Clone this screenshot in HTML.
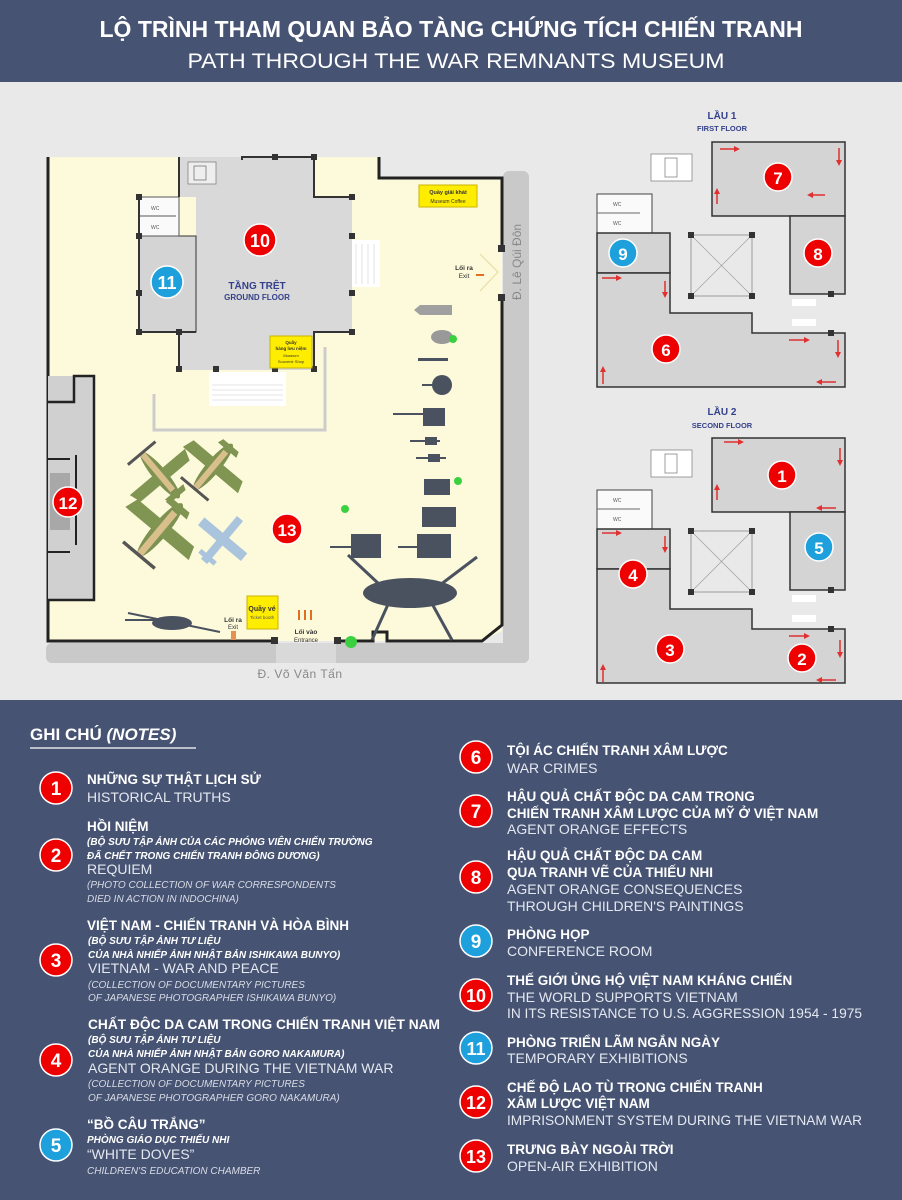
<!DOCTYPE html>
<html><head><meta charset="utf-8"><style>
html,body{margin:0;padding:0;width:902px;height:1200px;overflow:hidden;background:#465372}
svg{display:block}
text{font-family:"Liberation Sans",sans-serif}
</style></head><body>
<svg width="902" height="1200" viewBox="0 0 902 1200" xmlns="http://www.w3.org/2000/svg">
<defs>
<marker id="ah" markerWidth="6" markerHeight="6" refX="4" refY="3" orient="auto" markerUnits="userSpaceOnUse"><path d="M0,0 L6,3 L0,6Z" fill="#e03030"/></marker>
<g id="plane">
  <ellipse cx="0" cy="0" rx="7" ry="30" fill="#7d9150"/>
  <path d="M-36,-4 L36,-4 L32,8 L-32,8 Z" fill="#819552"/>
  <path d="M-12,22 L12,22 L10,28 L-10,28 Z" fill="#819552"/>
  <path d="M-3,-28 L3,-28 L3,20 L-3,20Z" fill="#d9bf8c"/>
  <rect x="-18" y="-30" width="36" height="3" fill="#555"/>
</g>
</defs>

<rect x="0" y="0" width="902" height="82" fill="#465372"/>
<text x="451" y="37" text-anchor="middle" font-size="23" font-weight="bold" fill="#fff" textLength="703" lengthAdjust="spacingAndGlyphs">LỘ TRÌNH THAM QUAN BẢO TÀNG CHỨNG TÍCH CHIẾN TRANH</text>
<text x="456" y="68" text-anchor="middle" font-size="21" fill="#fff" textLength="537" lengthAdjust="spacingAndGlyphs">PATH THROUGH THE WAR REMNANTS MUSEUM</text>

<rect x="0" y="82" width="902" height="618" fill="#e9e9e9"/>

<rect x="503" y="171" width="26" height="492" rx="6" fill="#c9c9c9"/>
<rect x="46" y="643" width="483" height="20" rx="6" fill="#c9c9c9"/>
<rect x="276" y="643" width="60" height="20" fill="#d9d9d9"/>
<text x="521" y="300" font-size="12" fill="#888" transform="rotate(-90 521 300)">Đ. Lê Qúi Đôn</text>
<text x="300" y="678" text-anchor="middle" font-size="12" fill="#888" letter-spacing="0.5">Đ. Võ Văn Tấn</text>

<polygon points="48,157 379,157 379,178 502,178 502,631 482,641 48,641" fill="#fdfadb"/>
<polyline points="48,157 48,641 275,641" fill="none" stroke="#222" stroke-width="3"/>
<polyline points="337,641 373,641 373,632 387,632 387,641 482,641 502,625 502,297" fill="none" stroke="#222" stroke-width="3"/>
<polyline points="502,248 502,178 379,178 379,157" fill="none" stroke="#222" stroke-width="3"/>
<rect x="498" y="245" width="7" height="7" fill="#333"/><rect x="498" y="294" width="7" height="7" fill="#333"/>
<rect x="334" y="637" width="7" height="7" fill="#333"/><rect x="271" y="637" width="7" height="7" fill="#333"/>
<path d="M480,254 L498,272 L480,291" fill="none" stroke="#e8d9a0"/>

<polygon points="179,157 314,157 314,197 352,197 352,332 314,332 314,370 179,370 179,332 139,332 139,236 196,236 196,197 179,197" fill="#d9d9d9"/>
<rect x="139" y="236" width="57" height="96" fill="#d4d4d4" stroke="#333" stroke-width="1"/>
<rect x="139" y="197" width="40" height="39" fill="#fafafa" stroke="#555" stroke-width="1"/>
<line x1="139" y1="216" x2="176" y2="216" stroke="#555"/>
<text x="151" y="210" font-size="5" fill="#555">WC</text><text x="151" y="229" font-size="5" fill="#555">WC</text>
<rect x="188" y="162" width="28" height="22" fill="#eee" stroke="#777" stroke-width="0.7"/>
<rect x="194" y="166" width="12" height="14" fill="none" stroke="#666" stroke-width="0.7"/>
<g stroke="#333" stroke-width="2" fill="none">
<polyline points="179,157 179,197"/><polyline points="242,160 242,157 314,157 314,197 352,197"/>
<polyline points="352,332 314,332 314,370"/><polyline points="179,332 179,370"/>
<polyline points="139,197 139,332 196,332"/>
</g>
<g fill="#333">
<rect x="272" y="154" width="6" height="6"/><rect x="311" y="154" width="6" height="6"/><rect x="349" y="194" width="6" height="6"/><rect x="349" y="233" width="6" height="6"/>
<rect x="349" y="290" width="6" height="6"/><rect x="349" y="329" width="6" height="6"/><rect x="311" y="366" width="6" height="6"/><rect x="272" y="366" width="6" height="6"/>
<rect x="213" y="366" width="6" height="6"/><rect x="176" y="366" width="6" height="6"/><rect x="176" y="329" width="6" height="6"/><rect x="136" y="329" width="6" height="6"/>
<rect x="136" y="290" width="6" height="6"/><rect x="136" y="233" width="6" height="6"/><rect x="136" y="194" width="6" height="6"/>
</g>
<rect x="352" y="240" width="28" height="47" fill="#fff"/>
<g stroke="#ddd" stroke-width="0.8"><line x1="356" y1="244" x2="356" y2="284"/><line x1="362" y1="244" x2="362" y2="284"/><line x1="368" y1="244" x2="368" y2="284"/><line x1="374" y1="244" x2="374" y2="284"/></g>
<rect x="209" y="372" width="77" height="34" fill="#fff"/>
<g stroke="#ddd" stroke-width="0.8"><line x1="212" y1="385" x2="283" y2="385"/><line x1="212" y1="390" x2="283" y2="390"/><line x1="212" y1="395" x2="283" y2="395"/><line x1="212" y1="400" x2="283" y2="400"/></g>
<polyline points="154,394 154,430 325,430 325,347" fill="none" stroke="#ccc" stroke-width="3"/>

<rect x="419" y="185" width="58" height="22" fill="#ffed00" stroke="#c9b400"/>
<text x="448" y="194" text-anchor="middle" font-size="5.5" font-weight="bold" fill="#333">Quầy giải khát</text>
<text x="448" y="203" text-anchor="middle" font-size="5" fill="#333">Museum Coffee</text>
<rect x="270" y="336" width="42" height="32" fill="#ffed00" stroke="#c9b400"/>
<text x="291" y="344" text-anchor="middle" font-size="4.5" font-weight="bold" fill="#333">Quầy</text>
<text x="291" y="350" text-anchor="middle" font-size="4.5" font-weight="bold" fill="#333">hàng lưu niệm</text>
<text x="291" y="357" text-anchor="middle" font-size="4" fill="#333">Museum</text>
<text x="291" y="363" text-anchor="middle" font-size="4" fill="#333">Souvenir Shop</text>
<rect x="247" y="596" width="31" height="33" fill="#ffed00" stroke="#c9b400"/>
<text x="262" y="611" text-anchor="middle" font-size="7" font-weight="bold" fill="#333">Quầy vé</text>
<text x="262" y="619" text-anchor="middle" font-size="4.5" fill="#555">Ticket booth</text>
<text x="464" y="270" text-anchor="middle" font-size="6.5" font-weight="bold" fill="#333">Lối ra</text>
<text x="464" y="278" text-anchor="middle" font-size="6.5" fill="#333">Exit</text>
<path d="M476,275 L484,275" stroke="#e07020" stroke-width="2"/>
<text x="233" y="622" text-anchor="middle" font-size="6.5" font-weight="bold" fill="#333">Lối ra</text>
<text x="233" y="629" text-anchor="middle" font-size="6" fill="#333">Exit</text>
<rect x="231" y="631" width="5" height="9" fill="#e89050"/>
<text x="306" y="634" text-anchor="middle" font-size="6.5" font-weight="bold" fill="#333">Lối vào</text>
<text x="306" y="642" text-anchor="middle" font-size="6" fill="#333">Entrance</text>
<g fill="#e07020"><rect x="298" y="610" width="2" height="10"/><rect x="304" y="610" width="2" height="10"/><rect x="310" y="610" width="2" height="10"/></g>

<rect x="48" y="376" width="46" height="224" fill="#d0d0d0"/>
<polyline points="48,402 74,402 74,376 94,376 94,600 48,600" fill="none" stroke="#222" stroke-width="2.5"/>
<rect x="50" y="473" width="20" height="57" fill="#a8a8a8"/>
<g stroke="#222" stroke-width="2"><line x1="48" y1="459" x2="70" y2="459"/><line x1="48" y1="552" x2="70" y2="552"/><line x1="76" y1="455" x2="76" y2="545"/></g>

<g transform="translate(160,475) rotate(-40)"><use href="#plane"/></g>
<g transform="translate(213,467) rotate(-140)"><use href="#plane"/></g>
<g transform="translate(160,530) rotate(-140) scale(1.15)"><use href="#plane"/></g>
<g transform="translate(222,540) rotate(40)"><path d="M-4,-28 L4,-28 L4,28 L-4,28Z M-28,-6 L28,-6 L28,4 L-28,4Z M-10,20 L10,20 L10,25 L-10,25Z" fill="#a9c4dc"/></g>
<g fill="#4a5260">
<path d="M420,305 L452,305 L452,315 L420,315 L414,310Z" fill="#a0a0a0"/>
<ellipse cx="442" cy="337" rx="11" ry="7" fill="#999"/>
<rect x="418" y="358" width="30" height="3"/>
<circle cx="442" cy="385" r="10"/><rect x="422" y="384" width="20" height="2"/>
<rect x="423" y="408" width="22" height="18"/><rect x="393" y="413" width="30" height="2"/>
<rect x="425" y="437" width="12" height="8"/><rect x="410" y="440" width="30" height="2"/>
<rect x="428" y="454" width="12" height="8"/><rect x="416" y="457" width="30" height="2"/>
<rect x="424" y="479" width="26" height="16"/>
<rect x="422" y="507" width="34" height="20"/>
<rect x="351" y="534" width="30" height="24"/><rect x="330" y="546" width="22" height="2"/>
<rect x="417" y="534" width="34" height="24"/><rect x="398" y="546" width="22" height="2"/>
<ellipse cx="410" cy="593" rx="47" ry="15"/>
</g>
<g stroke="#4a5260" stroke-width="3"><line x1="348" y1="555" x2="380" y2="585"/><line x1="440" y1="585" x2="477" y2="557"/><line x1="390" y1="600" x2="372" y2="640"/><line x1="430" y1="600" x2="452" y2="640"/></g>
<ellipse cx="172" cy="623" rx="20" ry="7" fill="#4a5260"/>
<g stroke="#4a5260" stroke-width="2"><line x1="128" y1="613" x2="220" y2="632"/><line x1="125" y1="620" x2="155" y2="620"/></g>
<g fill="#3bd040"><circle cx="453" cy="339" r="4"/><circle cx="458" cy="481" r="4"/><circle cx="345" cy="509" r="4"/><circle cx="351" cy="642" r="6"/></g>

<text x="257" y="289" text-anchor="middle" font-size="10" font-weight="bold" fill="#34418a">TẦNG TRỆT</text>
<text x="257" y="300" text-anchor="middle" font-size="8" font-weight="bold" fill="#34418a">GROUND FLOOR</text>

<g id="f1">
<rect x="651" y="154" width="41" height="27" fill="#fff" stroke="#888" stroke-width="0.8"/>
<rect x="665" y="158" width="12" height="19" fill="none" stroke="#777" stroke-width="0.7"/>
<rect x="597" y="194" width="55" height="39" fill="#fafafa" stroke="#444" stroke-width="1"/>
<line x1="597" y1="213" x2="640" y2="213" stroke="#666"/>
<text x="613" y="206" font-size="5" fill="#555">WC</text><text x="613" y="225" font-size="5" fill="#555">WC</text>
<rect x="712" y="142" width="133" height="74" fill="#d4d4d4" stroke="#333" stroke-width="1.5"/>
<rect x="790" y="216" width="55" height="78" fill="#d4d4d4" stroke="#333" stroke-width="1.5"/>
<rect x="597" y="233" width="73" height="40" fill="#d4d4d4" stroke="#333" stroke-width="1.5"/>
<polygon points="597,273 670,273 670,313 752,313 752,333 845,333 845,387 597,387" fill="#d4d4d4" stroke="#333" stroke-width="1.5"/>
<rect x="691" y="235" width="61" height="61" fill="none" stroke="#888" stroke-width="0.8"/>
<line x1="691" y1="235" x2="752" y2="296" stroke="#999" stroke-width="0.6"/><line x1="752" y1="235" x2="691" y2="296" stroke="#999" stroke-width="0.6"/>
<g fill="#333"><rect x="688" y="232" width="6" height="6"/><rect x="749" y="232" width="6" height="6"/><rect x="688" y="293" width="6" height="6"/><rect x="749" y="293" width="6" height="6"/><rect x="828" y="291" width="6" height="6"/><rect x="828" y="330" width="6" height="6"/></g>
<g fill="#fff"><rect x="792" y="299" width="24" height="7"/><rect x="792" y="319" width="24" height="7"/></g>
</g>
<use href="#f1" transform="translate(0,296)"/>
<text x="722" y="119" text-anchor="middle" font-size="10" font-weight="bold" fill="#34418a">LẦU 1</text>
<text x="722" y="131" text-anchor="middle" font-size="7.5" font-weight="bold" fill="#34418a">FIRST FLOOR</text>
<text x="722" y="415" text-anchor="middle" font-size="10" font-weight="bold" fill="#34418a">LẦU 2</text>
<text x="722" y="428" text-anchor="middle" font-size="7.5" font-weight="bold" fill="#34418a">SECOND FLOOR</text>
<g stroke="#e03030" stroke-width="1.5" marker-end="url(#ah)">
<line x1="720" y1="149" x2="738" y2="149"/><line x1="839" y1="148" x2="839" y2="164"/><line x1="825" y1="195" x2="809" y2="195"/><line x1="717" y1="204" x2="717" y2="190"/>
<line x1="602" y1="278" x2="620" y2="278"/><line x1="665" y1="281" x2="665" y2="296"/><line x1="789" y1="340" x2="808" y2="340"/><line x1="838" y1="340" x2="838" y2="356"/><line x1="836" y1="382" x2="818" y2="382"/><line x1="603" y1="384" x2="603" y2="368"/>
<line x1="724" y1="442" x2="742" y2="442"/><line x1="840" y1="448" x2="840" y2="464"/><line x1="836" y1="508" x2="818" y2="508"/><line x1="717" y1="500" x2="717" y2="486"/>
<line x1="602" y1="533" x2="620" y2="533"/><line x1="665" y1="536" x2="665" y2="551"/><line x1="789" y1="636" x2="808" y2="636"/><line x1="840" y1="640" x2="840" y2="656"/><line x1="836" y1="680" x2="818" y2="680"/><line x1="603" y1="682" x2="603" y2="666"/>
</g>

<g font-weight="bold" fill="#fff" text-anchor="middle">
<g><circle cx="260" cy="240" r="16" fill="#e00" stroke="#fff" stroke-width="1.5"/><text x="260" y="247" font-size="18">10</text></g>
<g><circle cx="167" cy="282" r="16" fill="#1ea0dc" stroke="#fff" stroke-width="1.5"/><text x="167" y="289" font-size="18">11</text></g>
<g><circle cx="68" cy="502" r="15" fill="#e00" stroke="#fff" stroke-width="1.5"/><text x="68" y="509" font-size="17">12</text></g>
<g><circle cx="287" cy="529" r="15" fill="#e00" stroke="#fff" stroke-width="1.5"/><text x="287" y="536" font-size="17">13</text></g>
<g><circle cx="778" cy="177" r="14" fill="#e00" stroke="#fff" stroke-width="1.5"/><text x="778" y="184" font-size="17">7</text></g>
<g><circle cx="818" cy="253" r="14" fill="#e00" stroke="#fff" stroke-width="1.5"/><text x="818" y="260" font-size="17">8</text></g>
<g><circle cx="623" cy="253" r="14" fill="#1ea0dc" stroke="#fff" stroke-width="1.5"/><text x="623" y="260" font-size="17">9</text></g>
<g><circle cx="666" cy="349" r="14" fill="#e00" stroke="#fff" stroke-width="1.5"/><text x="666" y="356" font-size="17">6</text></g>
<g><circle cx="782" cy="475" r="14" fill="#e00" stroke="#fff" stroke-width="1.5"/><text x="782" y="482" font-size="17">1</text></g>
<g><circle cx="819" cy="547" r="14" fill="#1ea0dc" stroke="#fff" stroke-width="1.5"/><text x="819" y="554" font-size="17">5</text></g>
<g><circle cx="633" cy="574" r="14" fill="#e00" stroke="#fff" stroke-width="1.5"/><text x="633" y="581" font-size="17">4</text></g>
<g><circle cx="670" cy="649" r="14" fill="#e00" stroke="#fff" stroke-width="1.5"/><text x="670" y="656" font-size="17">3</text></g>
<g><circle cx="802" cy="658" r="14" fill="#e00" stroke="#fff" stroke-width="1.5"/><text x="802" y="665" font-size="17">2</text></g>
</g>

<text x="30" y="740" font-size="17" font-weight="bold" fill="#fff">GHI CHÚ <tspan font-style="italic">(NOTES)</tspan></text>
<line x1="30" y1="748" x2="196" y2="748" stroke="#fff" stroke-width="1.2"/>

<g font-weight="bold" fill="#fff" text-anchor="middle">
<circle cx="56" cy="788" r="16" fill="#e00" stroke="#fff" stroke-width="1.5"/><text x="56" y="795" font-size="19">1</text>
<circle cx="56" cy="855" r="16" fill="#e00" stroke="#fff" stroke-width="1.5"/><text x="56" y="862" font-size="19">2</text>
<circle cx="56" cy="960" r="16" fill="#e00" stroke="#fff" stroke-width="1.5"/><text x="56" y="967" font-size="19">3</text>
<circle cx="56" cy="1060" r="16" fill="#e00" stroke="#fff" stroke-width="1.5"/><text x="56" y="1067" font-size="19">4</text>
<circle cx="56" cy="1145" r="16" fill="#1ea0dc" stroke="#fff" stroke-width="1.5"/><text x="56" y="1152" font-size="19">5</text>
<circle cx="476" cy="757" r="16" fill="#e00" stroke="#fff" stroke-width="1.5"/><text x="476" y="764" font-size="19">6</text>
<circle cx="476" cy="811" r="16" fill="#e00" stroke="#fff" stroke-width="1.5"/><text x="476" y="818" font-size="19">7</text>
<circle cx="476" cy="877" r="16" fill="#e00" stroke="#fff" stroke-width="1.5"/><text x="476" y="884" font-size="19">8</text>
<circle cx="476" cy="941" r="16" fill="#1ea0dc" stroke="#fff" stroke-width="1.5"/><text x="476" y="948" font-size="19">9</text>
<circle cx="476" cy="995" r="16" fill="#e00" stroke="#fff" stroke-width="1.5"/><text x="476" y="1002" font-size="18">10</text>
<circle cx="476" cy="1048" r="16" fill="#1ea0dc" stroke="#fff" stroke-width="1.5"/><text x="476" y="1055" font-size="18">11</text>
<circle cx="476" cy="1102" r="16" fill="#e00" stroke="#fff" stroke-width="1.5"/><text x="476" y="1109" font-size="18">12</text>
<circle cx="476" cy="1156" r="16" fill="#e00" stroke="#fff" stroke-width="1.5"/><text x="476" y="1163" font-size="18">13</text>
</g>

<g fill="#fff">
<g font-size="13.5" font-weight="bold">
<text x="87" y="784">NHỮNG SỰ THẬT LỊCH SỬ</text>
<text x="87" y="831">HỒI NIỆM</text>
<text x="87" y="930">VIỆT NAM - CHIẾN TRANH VÀ HÒA BÌNH</text>
<text x="88" y="1029" textLength="352" lengthAdjust="spacingAndGlyphs">CHẤT ĐỘC DA CAM TRONG CHIẾN TRANH VIỆT NAM</text>
<text x="87" y="1129">“BỒ CÂU TRẮNG”</text>
<text x="507" y="755">TỘI ÁC CHIẾN TRANH XÂM LƯỢC</text>
<text x="507" y="801">HẬU QUẢ CHẤT ĐỘC DA CAM TRONG</text>
<text x="507" y="818">CHIẾN TRANH XÂM LƯỢC CỦA MỸ Ở VIỆT NAM</text>
<text x="507" y="860">HẬU QUẢ CHẤT ĐỘC DA CAM</text>
<text x="507" y="877">QUA TRANH VẼ CỦA THIẾU NHI</text>
<text x="507" y="939">PHÒNG HỌP</text>
<text x="507" y="985">THẾ GIỚI ỦNG HỘ VIỆT NAM KHÁNG CHIẾN</text>
<text x="507" y="1047">PHÒNG TRIỂN LÃM NGẮN NGÀY</text>
<text x="507" y="1092">CHẾ ĐỘ LAO TÙ TRONG CHIẾN TRANH</text>
<text x="507" y="1108">XÂM LƯỢC VIỆT NAM</text>
<text x="507" y="1154">TRƯNG BÀY NGOÀI TRỜI</text>
</g>
<g font-size="10" font-weight="bold" font-style="italic">
<text x="87" y="845">(BỘ SƯU TẬP ẢNH CỦA CÁC PHÓNG VIÊN CHIẾN TRƯỜNG</text>
<text x="87" y="859">ĐÃ CHẾT TRONG CHIẾN TRANH ĐÔNG DƯƠNG)</text>
<text x="88" y="944">(BỘ SƯU TẬP ẢNH TƯ LIỆU</text>
<text x="88" y="958">CỦA NHÀ NHIẾP ẢNH NHẬT BẢN ISHIKAWA BUNYO)</text>
<text x="88" y="1043">(BỘ SƯU TẬP ẢNH TƯ LIỆU</text>
<text x="88" y="1057">CỦA NHÀ NHIẾP ẢNH NHẬT BẢN GORO NAKAMURA)</text>
<text x="87" y="1143">PHÒNG GIÁO DỤC THIẾU NHI</text>
</g>
<g font-size="14" fill="#e4e8f0">
<text x="87" y="802">HISTORICAL TRUTHS</text>
<text x="87" y="874">REQUIEM</text>
<text x="88" y="973">VIETNAM - WAR AND PEACE</text>
<text x="88" y="1073">AGENT ORANGE DURING THE VIETNAM WAR</text>
<text x="87" y="1159">“WHITE DOVES”</text>
<text x="507" y="773">WAR CRIMES</text>
<text x="507" y="834">AGENT ORANGE EFFECTS</text>
<text x="507" y="894">AGENT ORANGE CONSEQUENCES</text>
<text x="507" y="911">THROUGH CHILDREN'S PAINTINGS</text>
<text x="507" y="956">CONFERENCE ROOM</text>
<text x="507" y="1002">THE WORLD SUPPORTS VIETNAM</text>
<text x="507" y="1018" textLength="355" lengthAdjust="spacingAndGlyphs">IN ITS RESISTANCE TO U.S. AGGRESSION 1954 - 1975</text>
<text x="507" y="1063">TEMPORARY EXHIBITIONS</text>
<text x="507" y="1125" textLength="355" lengthAdjust="spacingAndGlyphs">IMPRISONMENT SYSTEM DURING THE VIETNAM WAR</text>
<text x="507" y="1171">OPEN-AIR EXHIBITION</text>
</g>
<g font-size="10" font-style="italic" fill="#d8dce6">
<text x="87" y="888">(PHOTO COLLECTION OF WAR CORRESPONDENTS</text>
<text x="87" y="902">DIED IN ACTION IN INDOCHINA)</text>
<text x="88" y="988">(COLLECTION OF DOCUMENTARY PICTURES</text>
<text x="88" y="1001">OF JAPANESE PHOTOGRAPHER ISHIKAWA BUNYO)</text>
<text x="88" y="1087">(COLLECTION OF DOCUMENTARY PICTURES</text>
<text x="88" y="1101">OF JAPANESE PHOTOGRAPHER GORO NAKAMURA)</text>
<text x="87" y="1174">CHILDREN'S EDUCATION CHAMBER</text>
</g>
</g>
</svg>
</body></html>
